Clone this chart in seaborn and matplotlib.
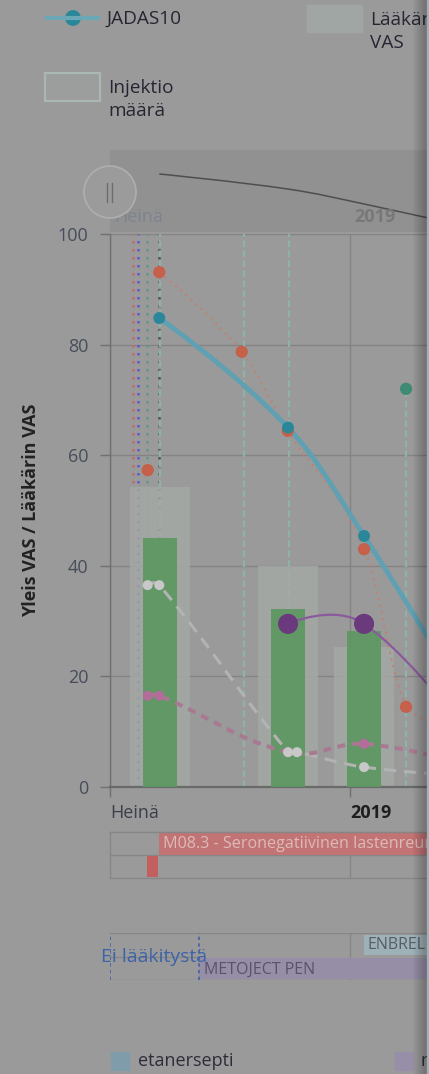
import numpy as np
import matplotlib
matplotlib.use('Agg')
import matplotlib.pyplot as plt
from matplotlib.path import Path
from matplotlib.patches import PathPatch, Rectangle, Circle
import seaborn as sns

# Aika-akseli: päiviä 1.7.2018 alkaen (2019 = päivä 184)
kuukausi_tikit = [0, 184]
kuukausi_nimet = ['Heinä', '2019']
x_max = 244.6

# Käynnit ja pylväät
kaynnit = [38.3, 136.5, 194.8]
laakarin_vas = [54.2, 40.0, 25.3]
yleis_vas = [45.0, 32.2, 28.2]

# JADAS10
jadas_x = [37.8, 136.5, 194.8, 262.0]
jadas_y = [84.8, 65.0, 45.4, 20.0]

# punainen pistekatkoviiva (ensimmäinen piste erillinen)
pun_x = [28.9, 37.8, 101.0, 136.3, 194.8, 227.0, 300.0]
pun_y = [57.3, 93.1, 78.7, 64.4, 43.0, 14.5, 8.0]

# violetti
vio_x = [136.5, 194.8, 290.0]
vio_y = [29.5, 29.5, 5.0]

# roosa katkoviiva
roosa_x = [28.9, 37.8, 136.5, 194.8, 275.0]
roosa_y = [16.5, 16.5, 6.3, 7.8, 4.0]

# vaalea katkoviiva
vaal_x = [28.9, 37.8, 136.5, 143.4, 194.8, 275.0]
vaal_y = [36.5, 36.5, 6.3, 6.3, 3.6, 2.0]

# injektiot
inj_x = [38.3, 102.8, 137.3, 227.0]
inj_y = [100, 100, 100, 72.0]

# pystysuorat pisteviivat
merkki_x = [17.6, 21.5, 28.4, 37.2]
merkki_varit = ['#c36a6a', '#5b5bd0', '#5c9c7c', '#555555']

# diagnoosit ja lääkitys
diag_teksti = 'M08.3 - Seronegatiivinen lastenreuma'
diag1_alku, diag1_loppu = 37.6, 400.0
diag2_alku, diag2_loppu = 28.4, 36.8
metoject_alku = 68.3
enbrel_alku = 194.8
ei_laakitysta = [0.0, 68.3]

BG = '#9a9a9a'
W, H = 429, 1074

sns.set_theme(style='white', rc={'axes.facecolor': BG, 'figure.facecolor': BG})
plt.rcParams['font.family'] = ['Open Sans', 'DejaVu Sans']

fig = plt.figure(figsize=(W / 100, H / 100), dpi=100, facecolor=BG)


def px_axes(x0, y0, x1, y1, **kw):
    return fig.add_axes([x0 / W, 1 - y1 / H, (x1 - x0) / W, (y1 - y0) / H], **kw)


def spline_patch(xs, ys, smoothing=1.5, clamp=True, **kw):
    # Highcharts-tyylinen spline
    n = len(xs)
    left = [None] * n
    right = [None] * n
    right[0] = (xs[0], ys[0])
    left[-1] = (xs[-1], ys[-1])
    d = smoothing + 1
    for i in range(1, n - 1):
        lx = (smoothing * xs[i] + xs[i - 1]) / d
        ly = (smoothing * ys[i] + ys[i - 1]) / d
        rx = (smoothing * xs[i] + xs[i + 1]) / d
        ry = (smoothing * ys[i] + ys[i + 1]) / d
        if rx != lx:
            corr = (ry - ly) * (rx - xs[i]) / (rx - lx) + ys[i] - ry
            ly += corr
            ry += corr
        if clamp:
            if ly > max(ys[i - 1], ys[i]):
                ly = max(ys[i - 1], ys[i]); ry = 2 * ys[i] - ly
            elif ly < min(ys[i - 1], ys[i]):
                ly = min(ys[i - 1], ys[i]); ry = 2 * ys[i] - ly
            if ry > max(ys[i], ys[i + 1]):
                ry = max(ys[i], ys[i + 1]); ly = 2 * ys[i] - ry
            elif ry < min(ys[i], ys[i + 1]):
                ry = min(ys[i], ys[i + 1]); ly = 2 * ys[i] - ry
        left[i] = (lx, ly)
        right[i] = (rx, ry)
    verts = [(xs[0], ys[0])]
    codes = [Path.MOVETO]
    for i in range(1, n):
        verts += [right[i - 1], left[i], (xs[i], ys[i])]
        codes += [Path.CURVE4] * 3
    return PathPatch(Path(verts, codes), fill=False, **kw)


# ---------- pääkuvaaja ----------
ax = px_axes(110, 234, 429, 787)
ax.set_facecolor(BG)
ax.set_xlim(0, x_max)
ax.set_ylim(0, 100)
ax.set_axisbelow(True)
ax.grid(True, color='#848484', lw=1)
ax.set_yticks(range(0, 101, 20))
ax.set_xticks(kuukausi_tikit)
ax.set_xticklabels(kuukausi_nimet, ha='left')
ax.get_xticklabels()[1].set_fontweight('bold')
ax.get_xticklabels()[1].set_color('#1e1e1e')
ax.get_xticklabels()[0].set_color('#3a3f4a')
ax.tick_params(axis='y', length=7.2, width=1, color='#707070', labelsize=13,
               labelcolor='#474d5a', pad=8.5, left=True)
ax.tick_params(axis='x', length=7.2, width=1, color='#707070', labelsize=13, pad=5, bottom=True)
for s in ['top', 'right']:
    ax.spines[s].set_visible(False)
ax.spines['left'].set_color('#707070')
ax.spines['left'].set_linewidth(1)
ax.spines['bottom'].set_color('#6a6a6a')
ax.spines['bottom'].set_linewidth(1.6)
ax.set_ylabel('Yleis VAS / Lääkärin VAS', fontsize=13, fontweight='bold', color='#222222')
ax.yaxis.set_label_coords((40 - 110) / 319, 0.5)

for xv, c in zip(merkki_x, merkki_varit):
    ax.axvline(xv, color=c, lw=1.8, linestyle=(0, (1, 2.2)), zorder=1.5)

ax.vlines(inj_x, 0, inj_y, colors='#8db3a8', lw=1.6, linestyles=(0, (3, 1.5)), zorder=1.6)

ax.bar(kaynnit, laakarin_vas, width=46, color='#a4aaa6', alpha=0.8, linewidth=0, zorder=2)
ax.bar(kaynnit, yleis_vas, width=26, color='#5e9862', alpha=0.95, linewidth=0, zorder=3)

ax.add_patch(spline_patch(vaal_x, vaal_y, clamp=False, edgecolor='#b3b3b3', lw=2.2,
                          linestyle=(0, (4, 2.6)), zorder=4))
ax.add_patch(spline_patch(roosa_x, roosa_y, clamp=False, edgecolor='#a87a92', lw=2.9,
                          linestyle=(0, (2, 1.6)), zorder=4))
ax.add_patch(spline_patch(pun_x[1:], pun_y[1:], edgecolor='#c08272', lw=1.5,
                          linestyle=(0, (1, 2.3)), zorder=4))
ax.add_patch(spline_patch(vio_x, vio_y, clamp=False, edgecolor='#8a5a9c', lw=1.6, zorder=4))
ax.add_patch(spline_patch(jadas_x, jadas_y, edgecolor='#5fa0b2', lw=3.5, zorder=5))

sns.scatterplot(x=roosa_x, y=roosa_y, ax=ax, s=52, color='#b46c9b', edgecolor='none', zorder=6)
sns.scatterplot(x=vaal_x, y=vaal_y, ax=ax, s=52, color='#c8c8c8', edgecolor='none', zorder=6)
sns.scatterplot(x=pun_x, y=pun_y, ax=ax, s=78, color='#c5604b', edgecolor='none', zorder=6)
sns.scatterplot(x=vio_x, y=vio_y, ax=ax, s=210, color='#6b3a7d', edgecolor='none', zorder=6)
sns.scatterplot(x=jadas_x, y=jadas_y, ax=ax, s=74, color='#2a8799', edgecolor='none', zorder=7)
sns.scatterplot(x=inj_x[-1:], y=inj_y[-1:], ax=ax, s=78, color='#3f8a74', edgecolor='none', zorder=6)
ax.set_xlim(0, x_max)
ax.set_ylim(0, 100)

# ---------- navigaattori ----------
nav = px_axes(110, 150, 429, 232)
nav.set_facecolor('#919191')
nav.set_xlim(0, x_max)
nav.set_ylim(8.6, 116.3)
nav.set_xticks([]); nav.set_yticks([])
for s in nav.spines.values():
    s.set_visible(False)
nav.add_patch(spline_patch(jadas_x, jadas_y, edgecolor='#4e4e4e', lw=1.1))
nav.text(kuukausi_tikit[0] + 3, 0.18, kuukausi_nimet[0], fontsize=13, color='#7d8490',
         ha='left', va='center', transform=nav.get_xaxis_transform())
nav.text(kuukausi_tikit[1] + 3, 0.18, kuukausi_nimet[1], fontsize=13, color='#787878',
         fontweight='bold', ha='left', va='center', transform=nav.get_xaxis_transform())

# ---------- diagnoosit ----------
dg = px_axes(110, 832, 429, 878)
dg.set_facecolor('none')
dg.set_xlim(0, x_max)
dg.set_ylim(0, 2)
dg.set_xticks([]); dg.set_yticks([])
for s in ['left', 'top', 'bottom']:
    dg.spines[s].set_color('#868686'); dg.spines[s].set_linewidth(1)
dg.spines['right'].set_visible(False)
dg.axhline(1, color='#868686', lw=1)
dg.axvline(kuukausi_tikit[1], color='#868686', lw=1)
dg.barh(1.5, diag1_loppu - diag1_alku, left=diag1_alku, height=0.98, color='#c27373',
        linewidth=0, zorder=2)
dg.barh(0.5, diag2_loppu - diag2_alku, left=diag2_alku, height=0.92, color='#c45f5f',
        linewidth=0, zorder=2)
dg.text(diag1_alku + 3, 1.5, diag_teksti, fontsize=11.6, color='#dcbaba', ha='left',
        va='center', zorder=3, clip_on=True)

# ---------- lääkitys ----------
md = px_axes(110, 933, 429, 980)
md.set_facecolor('none')
md.set_xlim(0, x_max)
md.set_ylim(0, 2)
md.set_xticks([]); md.set_yticks([])
for s in md.spines.values():
    s.set_visible(False)
md.axhline(2, color='#868686', lw=1)
md.axhline(0, color='#868686', lw=1)
md.axhline(1, xmax=metoject_alku / x_max, color='#868686', lw=1)
md.axvline(kuukausi_tikit[1], color='#868686', lw=1)
md.barh(1.5, 400, left=enbrel_alku, height=0.85, color='#9fb1b8', linewidth=0, zorder=2)
md.barh(0.5, 400, left=metoject_alku, height=0.9, color='#958ea6', linewidth=0, zorder=2)
md.text(enbrel_alku + 3, 1.5, 'ENBREL', fontsize=11.5, color='#555d62', ha='left', va='center',
        zorder=3, clip_on=True)
md.text(metoject_alku + 4, 0.45, 'METOJECT PEN', fontsize=11.5, color='#58536a', ha='left',
        va='center', zorder=3, clip_on=True)
for xv in ei_laakitysta:
    md.axvline(xv, color='#3f63a6', lw=1.2, linestyle=(0, (2, 2)), zorder=4)
md.text(sum(ei_laakitysta) / 2, 1.0, 'Ei lääkitystä', fontsize=14, color='#3d63a8',
        ha='center', va='center', zorder=5, clip_on=False)

# ---------- päällyskerros: selitteet, kahva, varjo ----------
ov = fig.add_axes([0, 0, 1, 1], zorder=10)
ov.patch.set_alpha(0)
ov.axis('off')

ov.plot([45, 100], [18, 18], color='#6aa7b7', lw=3, solid_capstyle='butt')
ov.add_patch(Circle((73, 18), 7.2, color='#2a8799'))
ov.text(107, 19, 'JADAS10', fontsize=13.7, color='#262633', va='center', ha='left')
ov.add_patch(Rectangle((307, 5), 55, 27, color='#a0a6a3'))
ov.text(370, 20, 'Lääkärin', fontsize=13.7, color='#262633', va='center', ha='left')
ov.text(370, 43, 'VAS', fontsize=13.7, color='#262633', va='center', ha='left')
ov.add_patch(Rectangle((45, 73), 55, 28, facecolor='#9c9e9d', edgecolor='#a9b8b4', lw=1.6))
ov.text(108, 88, 'Injektio', fontsize=13.7, color='#262633', va='center', ha='left')
ov.text(108, 111, 'määrä', fontsize=13.7, color='#262633', va='center', ha='left')

ov.add_patch(Circle((110, 192), 26, facecolor='#9b9b9b', edgecolor='#adadad', lw=1.3))
ov.plot([107, 107], [183, 202], color='#6c6c6c', lw=1)
ov.plot([112, 112], [183, 202], color='#6c6c6c', lw=1)

ov.add_patch(Rectangle((111, 1052), 18, 18, color='#7f9cab'))
ov.text(138, 1061, 'etanersepti', fontsize=13, color='#2d2d3a', va='center', ha='left')
ov.add_patch(Rectangle((395, 1052), 18, 18, color='#968fa7'))
ov.text(421, 1061, 'metotreksaatti', fontsize=13, color='#2d2d3a', va='center', ha='left')

varjo = np.zeros((1, 60, 4))
varjo[0, :, 3] = np.linspace(0, 0.28, 60)
ov.imshow(varjo, extent=(412, 427, H, 0), aspect='auto', zorder=20)
ov.add_patch(Rectangle((427, 0), 2, H, color='#a4b0b8', zorder=21))
ov.set_xlim(0, W)
ov.set_ylim(H, 0)

fig.savefig('out.png', dpi=100, facecolor=BG)
